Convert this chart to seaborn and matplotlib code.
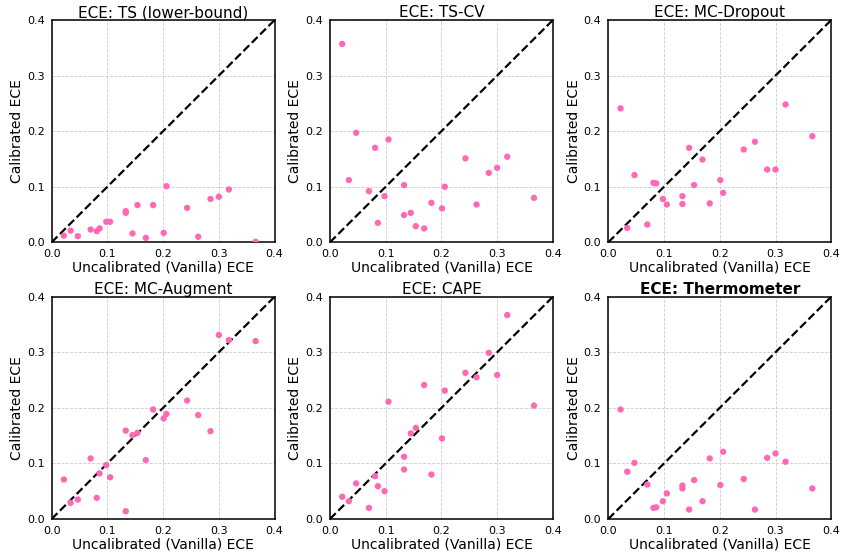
import numpy as np
import pandas as pd
import matplotlib
matplotlib.use("Agg")
import matplotlib.pyplot as plt
import seaborn as sns

# ── Data ───────────────────────────────────────────────────────────────────────
vanilla = [0.022, 0.034, 0.047, 0.070, 0.081, 0.086, 0.098, 0.105, 0.133, 0.133, 0.145,
           0.154, 0.169, 0.182, 0.201, 0.206, 0.243, 0.263, 0.285, 0.300, 0.318, 0.366]

ts_lower = [0.012, 0.021, 0.011, 0.023, 0.020, 0.025, 0.037, 0.037, 0.056, 0.053, 0.016,
            0.067, 0.008, 0.067, 0.017, 0.101, 0.062, 0.010, 0.078, 0.082, 0.095, 0.001]
ts_cv = [0.357, 0.112, 0.197, 0.092, 0.170, 0.035, 0.083, 0.185, 0.103, 0.049, 0.053,
         0.029, 0.025, 0.071, 0.061, 0.100, 0.151, 0.068, 0.125, 0.134, 0.154, 0.080]
mc_dropout = [0.241, 0.026, 0.121, 0.032, 0.107, 0.106, 0.078, 0.068, 0.083, 0.069, 0.170,
              0.103, 0.149, 0.070, 0.112, 0.089, 0.167, 0.181, 0.131, 0.131, 0.248, 0.191]
mc_augment = [0.071, 0.029, 0.035, 0.109, 0.038, 0.082, 0.097, 0.075, 0.159, 0.014, 0.151,
              0.155, 0.106, 0.197, 0.181, 0.189, 0.213, 0.187, 0.158, 0.331, 0.322, 0.320]
cape = [0.040, 0.032, 0.064, 0.020, 0.077, 0.059, 0.050, 0.211, 0.112, 0.089, 0.154,
        0.164, 0.241, 0.080, 0.145, 0.231, 0.263, 0.255, 0.299, 0.259, 0.367, 0.204]
thermometer = [0.197, 0.085, 0.101, 0.062, 0.020, 0.021, 0.032, 0.046, 0.060, 0.055, 0.017,
               0.070, 0.032, 0.109, 0.061, 0.121, 0.072, 0.017, 0.110, 0.118, 0.103, 0.055]

methods = ["TS (lower-bound)", "TS-CV", "MC-Dropout", "MC-Augment", "CAPE", "Thermometer"]
calibrated = [ts_lower, ts_cv, mc_dropout, mc_augment, cape, thermometer]

PINK = "#FF69B4"

sns.set_style("white")
plt.rcParams.update({
    "font.family": ["DejaVu Sans"],
    "text.color": "black",
    "axes.labelcolor": "black",
    "axes.titlecolor": "black",
})

fig = plt.figure(figsize=(8.46, 5.54), dpi=100)
lefts = [0.061, 0.390, 0.719]
bottoms = [0.5626, 0.0632]
w, h = 0.2636, 0.4013
ticks = [0.0, 0.1, 0.2, 0.3, 0.4]

for i, (name, vals) in enumerate(zip(methods, calibrated)):
    ax = fig.add_axes([lefts[i % 3], bottoms[i // 3], w, h])
    df = pd.DataFrame({"vanilla": vanilla, "cal": vals})
    sns.scatterplot(data=df, x="vanilla", y="cal", ax=ax, color=PINK,
                    s=21, edgecolor="none", zorder=3)
    ax.plot([0, 0.4], [0, 0.4], color="black", linestyle="--", linewidth=1.6, zorder=2)
    ax.set_xlim(0, 0.4)
    ax.set_ylim(0, 0.4)
    ax.set_xticks(ticks)
    ax.set_yticks(ticks)
    ax.set_xticklabels([f"{t:.1f}" for t in ticks])
    ax.set_yticklabels([f"{t:.1f}" for t in ticks])
    ax.grid(True, linestyle="--", color="#cccccc", linewidth=0.6)
    ax.set_axisbelow(True)
    for sp in ax.spines.values():
        sp.set_color("black")
        sp.set_linewidth(1.1)
    ax.tick_params(axis="both", direction="out", length=3.5, width=0.9,
                   labelsize=8, colors="black", pad=1.5)
    ax.set_xlabel("Uncalibrated (Vanilla) ECE", fontsize=10, labelpad=1)
    ax.set_ylabel("Calibrated ECE", fontsize=10, labelpad=2)
    weight = "bold" if name == "Thermometer" else "normal"
    ax.set_title(f"ECE: {name}", fontsize=11, fontweight=weight, pad=2)

fig.savefig("out.png", dpi=100)
